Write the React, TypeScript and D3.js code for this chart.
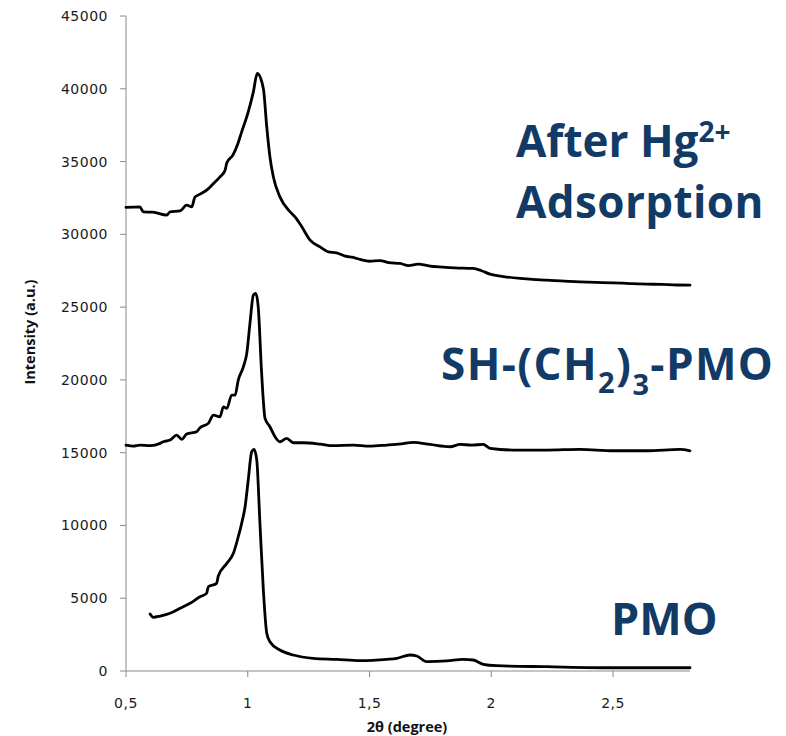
import React from "react";
import * as d3 from "d3";

// ---- data (2θ in degrees, intensity in a.u.) ----
const xHg = [0.5, 0.557, 0.571, 0.611, 0.667, 0.681, 0.722, 0.749, 0.77, 0.783, 0.804, 0.831, 0.857, 0.886, 0.907, 0.914, 0.939, 0.96, 0.975, 1.002, 1.023, 1.039, 1.064, 1.078, 1.091, 1.105, 1.132, 1.174, 1.194, 1.222, 1.256, 1.297, 1.331, 1.365, 1.4, 1.433, 1.461, 1.5, 1.543, 1.58, 1.625, 1.66, 1.7, 1.748, 1.8, 1.85, 1.925, 1.96, 1.995, 2.05, 2.118, 2.17, 2.228, 2.3, 2.364, 2.43, 2.5, 2.57, 2.638, 2.7, 2.76, 2.816];
const yHg = [31850, 31890, 31545, 31520, 31320, 31545, 31610, 32000, 31890, 32555, 32760, 33035, 33450, 33950, 34410, 34910, 35440, 36260, 37040, 38410, 39790, 41050, 40020, 37380, 35320, 33950, 32575, 31545, 31200, 30515, 29600, 29140, 28800, 28730, 28500, 28410, 28275, 28150, 28200, 28050, 28000, 27850, 27950, 27815, 27750, 27700, 27660, 27500, 27265, 27100, 26970, 26900, 26855, 26780, 26740, 26700, 26670, 26620, 26580, 26560, 26520, 26510];

const xSH = [0.5, 0.53, 0.557, 0.6, 0.64, 0.653, 0.681, 0.708, 0.729, 0.749, 0.79, 0.804, 0.838, 0.859, 0.886, 0.9, 0.914, 0.934, 0.948, 0.961, 0.982, 0.996, 1.009, 1.023, 1.033, 1.043, 1.057, 1.071, 1.091, 1.112, 1.132, 1.16, 1.187, 1.228, 1.297, 1.35, 1.433, 1.5, 1.571, 1.63, 1.68, 1.748, 1.831, 1.872, 1.92, 1.967, 1.995, 2.091, 2.228, 2.364, 2.501, 2.638, 2.775, 2.816];
const ySH = [15520, 15450, 15520, 15480, 15640, 15750, 15865, 16210, 15915, 16280, 16435, 16710, 17010, 17580, 17465, 18150, 18040, 18955, 18955, 19985, 20900, 21820, 23880, 25825, 25940, 25020, 20445, 17355, 16780, 16090, 15750, 15980, 15680, 15680, 15590, 15480, 15520, 15450, 15520, 15600, 15710, 15570, 15405, 15570, 15520, 15570, 15295, 15180, 15180, 15225, 15130, 15130, 15225, 15130];

const xPMO = [0.599, 0.612, 0.64, 0.681, 0.722, 0.763, 0.804, 0.831, 0.838, 0.872, 0.879, 0.914, 0.941, 0.961, 0.975, 0.989, 1.002, 1.016, 1.026, 1.037, 1.05, 1.064, 1.078, 1.091, 1.132, 1.187, 1.269, 1.365, 1.461, 1.571, 1.612, 1.666, 1.694, 1.735, 1.817, 1.885, 1.926, 1.967, 2.022, 2.228, 2.501, 2.816];
const yPMO = [3915, 3690, 3775, 3965, 4305, 4650, 5100, 5335, 5790, 6025, 6525, 7395, 8085, 9225, 10145, 11285, 13120, 15060, 15225, 14490, 10145, 5565, 2590, 2010, 1440, 1100, 870, 800, 710, 800, 870, 1100, 1030, 640, 690, 800, 755, 460, 365, 295, 225, 225];

const yTicks = [0, 5000, 10000, 15000, 20000, 25000, 30000, 35000, 40000, 45000];
const xTicks = [0.5, 1, 1.5, 2, 2.5];
const xTickLabels = ["0,5", "1", "1,5", "2", "2,5"];

const series = [
  { name: "After Hg2+ Adsorption", x: xHg, y: yHg },
  { name: "SH-(CH2)3-PMO", x: xSH, y: ySH },
  { name: "PMO", x: xPMO, y: yPMO },
];

const W = 786;
const H = 736;
const M = { left: 126, top: 16, right: 690, bottom: 671 };
const BLUE = "#123a66";

export default function App() {
  const x = d3.scaleLinear().domain([0.5, 2.816]).range([M.left, M.right]);
  const y = d3.scaleLinear().domain([0, 45000]).range([M.bottom, M.top]);

  const path = (xs: number[], ys: number[]) =>
    d3
      .line<number>()
      .x((d) => x(d))
      .y((_, i) => y(ys[i]))
      .curve(d3.curveMonotoneX)(xs) as string;

  const tickFont = "'DejaVu Sans', sans-serif";
  const titleFont = "'Open Sans', sans-serif";

  return (
    <svg
      width={W}
      height={H}
      style={{ position: "absolute", left: 0, top: 0, background: "#fff" }}
    >
      {/* axes */}
      <line x1={M.left} x2={M.left} y1={M.top} y2={M.bottom} stroke="#8a8a8a" strokeWidth={1} />
      <line x1={M.left} x2={M.right} y1={M.bottom} y2={M.bottom} stroke="#8a8a8a" strokeWidth={1} />
      {yTicks.map((t) => (
        <g key={"y" + t}>
          <line x1={M.left - 6} x2={M.left} y1={y(t)} y2={y(t)} stroke="#8a8a8a" />
          <text
            x={M.left - 18}
            y={y(t)}
            dy="0.36em"
            textAnchor="end"
            fontFamily={tickFont}
            fontSize={14}
            letterSpacing={0.5}
            fill="#1a1a1a"
          >
            {t}
          </text>
        </g>
      ))}
      {xTicks.map((t, i) => (
        <g key={"x" + t}>
          <line x1={x(t)} x2={x(t)} y1={M.bottom} y2={M.bottom + 6} stroke="#8a8a8a" />
          <text
            x={x(t)}
            y={708}
            textAnchor="middle"
            fontFamily={tickFont}
            fontSize={14}
            letterSpacing={0.5}
            fill="#1a1a1a"
          >
            {xTickLabels[i]}
          </text>
        </g>
      ))}

      {/* axis titles */}
      <text
        x={407}
        y={732}
        textAnchor="middle"
        fontFamily={titleFont}
        fontWeight="bold"
        fontSize={14.5}
        fill="#111"
      >
        2θ (degree)
      </text>
      <text
        transform="translate(35,332) rotate(-90)"
        textAnchor="middle"
        fontFamily={titleFont}
        fontWeight="bold"
        fontSize={14.5}
        fill="#111"
      >
        Intensity (a.u.)
      </text>

      {/* curves */}
      {series.map((s) => (
        <path
          key={s.name}
          d={path(s.x, s.y)}
          fill="none"
          stroke="#000"
          strokeWidth={2.8}
          strokeLinejoin="round"
          strokeLinecap="round"
        />
      ))}

      {/* labels */}
      <g fontFamily={titleFont} fontWeight="bold" fill={BLUE}>
        <text x={516} y={157} fontSize={44}>
          After Hg
          <tspan fontSize={28} dy={-15}>2+</tspan>
        </text>
        <text x={516} y={218} fontSize={44} letterSpacing={0.4}>
          Adsorption
        </text>
        <text x={441} y={380} fontSize={44} letterSpacing={1.4}>
          SH-(CH
          <tspan fontSize={29} dy={13}>2</tspan>
          <tspan dy={-13}>)</tspan>
          <tspan fontSize={29} dy={15}>3</tspan>
          <tspan dy={-15}>-PMO</tspan>
        </text>
        <text x={611} y={635} fontSize={45}>
          PMO
        </text>
      </g>
    </svg>
  );
}
